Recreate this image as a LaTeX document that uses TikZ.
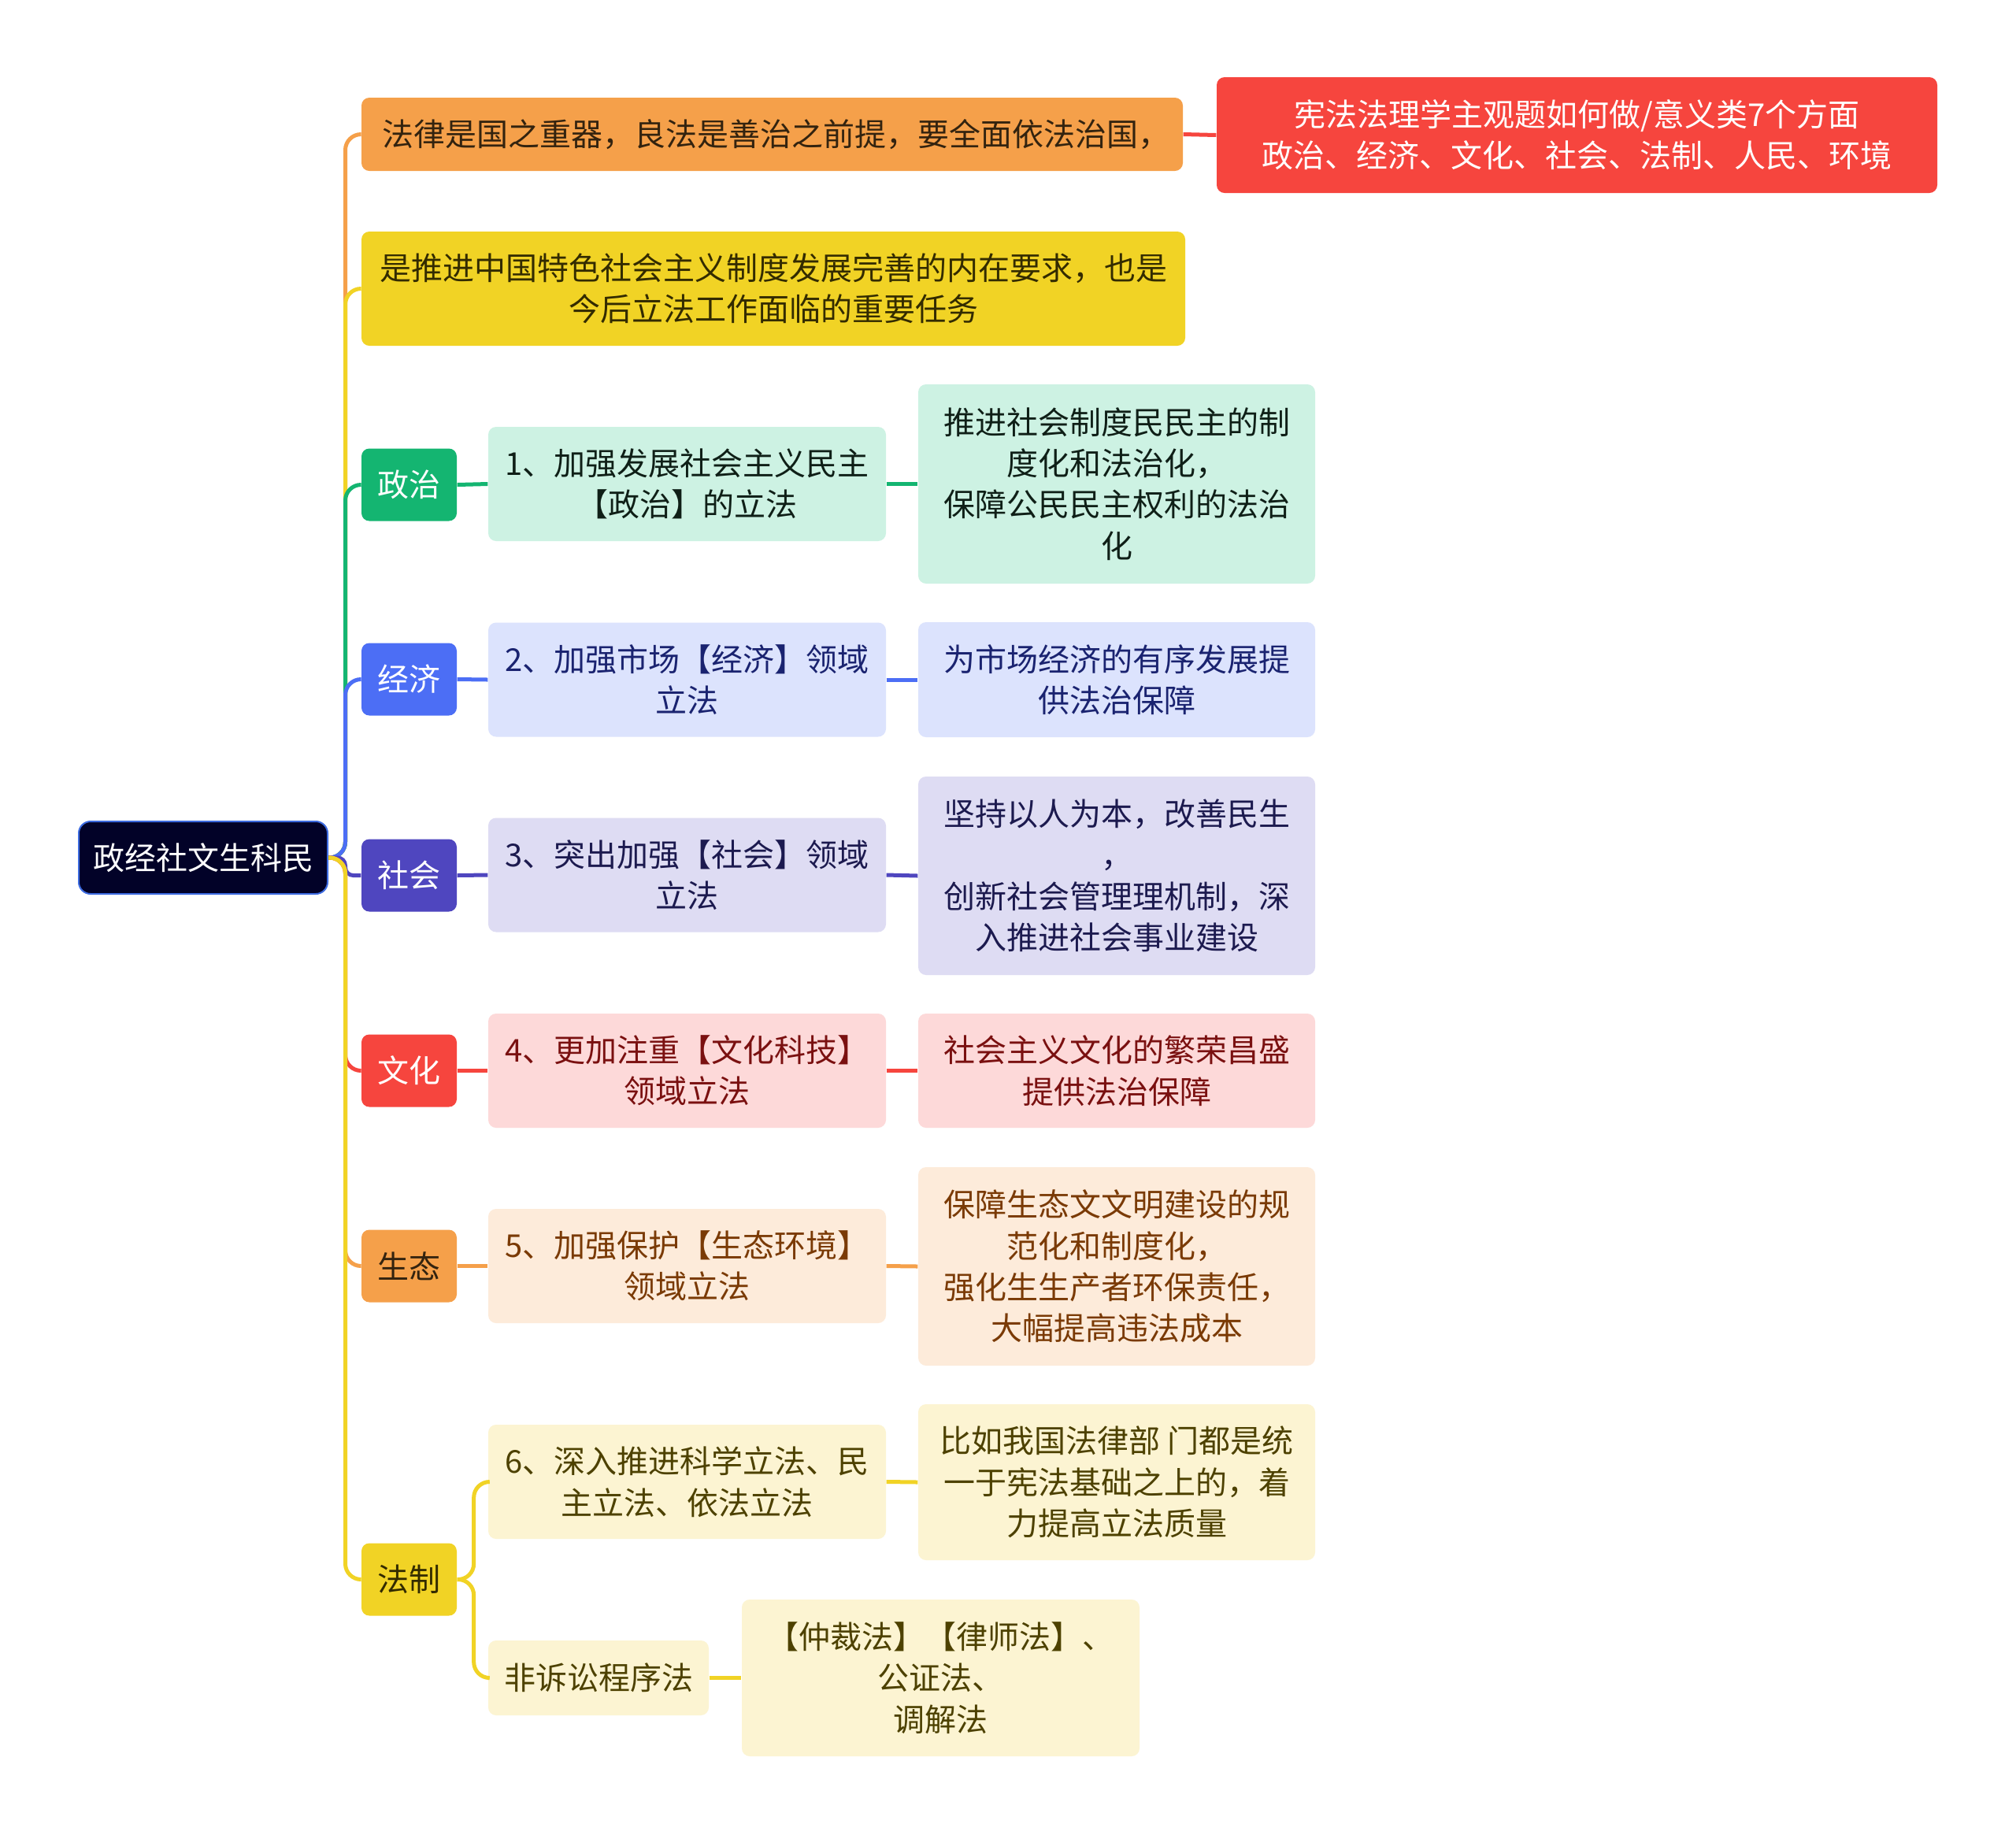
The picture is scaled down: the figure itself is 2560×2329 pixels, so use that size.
\documentclass[tikz,border=0pt]{standalone}
\usepackage{fontspec}
\setmainfont{Noto Sans CJK SC}
\definecolor{cOrange}{HTML}{F5A04A}
\definecolor{cRed}{HTML}{F6453E}
\definecolor{cYellow}{HTML}{F1D325}
\definecolor{cGreen}{HTML}{14B571}
\definecolor{cBlue}{HTML}{4C6EF5}
\definecolor{cIndigo}{HTML}{4F46BF}
\definecolor{cRoot}{HTML}{020228}
\definecolor{cRootB}{HTML}{3D6BE0}
\definecolor{lGreen}{HTML}{CDF2E3}
\definecolor{lBlue}{HTML}{DCE3FD}
\definecolor{lIndigo}{HTML}{DEDCF3}
\definecolor{lRed}{HTML}{FDD9D9}
\definecolor{lOrange}{HTML}{FDEBDA}
\definecolor{lYellow}{HTML}{FCF4D2}
\definecolor{tOrange}{HTML}{33230F}
\definecolor{tYellow}{HTML}{332B00}
\definecolor{tGreen}{HTML}{0F1F17}
\definecolor{tBlue}{HTML}{1A2370}
\definecolor{tIndigo}{HTML}{1C1A4F}
\definecolor{tRed}{HTML}{7A1010}
\definecolor{tBrown}{HTML}{7A3A05}
\definecolor{tOlive}{HTML}{4D4100}
\tikzset{
  box/.style={rectangle, rounded corners=3pt, inner sep=0pt, align=center,
    font=\fontsize{12pt}{15.7pt}\selectfont},
  catbox/.style={box, minimum width=36.3pt, minimum height=27.6pt},
  itembox/.style={box, minimum width=151.5pt, minimum height=43.5pt},
  detbox/.style={box, minimum width=151.2pt},
  conn/.style={line width=1.5pt, rounded corners=6pt},
  straight/.style={line width=1.5pt}}
\begin{document}
\begin{tikzpicture}[x=0.3pt,y=-0.3pt]
\fill[white] (0,0) rectangle (2560,2329);
\useasboundingbox (0,0) rectangle (2560,2329);

% root
\node[box, fill=cRoot, draw=cRootB, line width=0.6pt, text=white, rounded corners=4.5pt, minimum width=94.8pt, minimum height=27.6pt] (root) at (258,1089) {政经社文生科民};

% top nodes
\node[box, fill=cOrange, text=tOrange, minimum width=312.9pt, minimum height=27.9pt, align=left, text width=297.3pt, inner xsep=7.8pt] (n1) at (980.5,170.5) {法律是国之重器，良法是善治之前提，要全面依法治国，};
\node[box, fill=cRed, text=white, minimum width=274.5pt, minimum height=44.1pt] (red) at (2002.5,171.5) {宪法法理学主观题如何做/意义类7个方面\\政治、经济、文化、社会、法制、人民、环境};
\node[box, fill=cYellow, text=tYellow, minimum width=313.8pt, minimum height=43.5pt] (n2) at (982,366.5) {是推进中国特色社会主义制度发展完善的内在要求，也是\\今后立法工作面临的重要任务};

% categories
\node[catbox, fill=cGreen, text=white] (zz) at (519.5,615.5) {政治};
\node[catbox, fill=cBlue, text=white] (jj) at (519.5,862.5) {经济};
\node[catbox, fill=cIndigo, text=white] (sh) at (519.5,1111.5) {社会};
\node[catbox, fill=cRed, text=white] (wh) at (519.5,1359.5) {文化};
\node[catbox, fill=cOrange, text=tOrange] (st) at (519.5,1607.5) {生态};
\node[catbox, fill=cYellow, text=tYellow] (fz) at (519.5,2005.5) {法制};

% items
\node[itembox, fill=lGreen, text=tGreen] (i1) at (872.5,614.5) {1、加强发展社会主义民主\\【政治】的立法};
\node[itembox, fill=lBlue, text=tBlue] (i2) at (872.5,863) {2、加强市场【经济】领域\\立法};
\node[itembox, fill=lIndigo, text=tIndigo] (i3) at (872.5,1111) {3、突出加强【社会】领域\\立法};
\node[itembox, fill=lRed, text=tRed] (i4) at (872.5,1359.5) {4、更加注重【文化科技】\\领域立法};
\node[itembox, fill=lOrange, text=tBrown] (i5) at (872.5,1607.5) {5、加强保护【生态环境】\\领域立法};
\node[itembox, fill=lYellow, text=tOlive] (i6) at (872.5,1881.5) {6、深入推进科学立法、民\\主立法、依法立法};
\node[box, fill=lYellow, text=tOlive, minimum width=84pt, minimum height=28.5pt] (fs) at (760,2130.5) {非诉讼程序法};

% details
\node[detbox, fill=lGreen, text=tGreen, minimum height=75.9pt] (d1) at (1418,614.5) {推进社会制度民民主的制\\度化和法治化，\\保障公民民主权利的法治\\化};
\node[detbox, fill=lBlue, text=tBlue, minimum height=43.8pt] (d2) at (1418,863) {为市场经济的有序发展提\\供法治保障};
\node[detbox, fill=lIndigo, text=tIndigo, minimum height=75.6pt] (d3) at (1418,1112) {坚持以人为本，改善民生\\，\\创新社会管理理机制，深\\入推进社会事业建设};
\node[detbox, fill=lRed, text=tRed, minimum height=43.5pt] (d4) at (1418,1359.5) {社会主义文化的繁荣昌盛\\提供法治保障};
\node[detbox, fill=lOrange, text=tBrown, minimum height=75.6pt] (d5) at (1418,1608) {保障生态文文明建设的规\\范化和制度化，\\强化生生产者环保责任，\\大幅提高违法成本};
\node[detbox, fill=lYellow, text=tOlive, minimum height=59.4pt] (d6) at (1418,1882) {比如我国法律部 门都是统\\一于宪法基础之上的，着\\力提高立法质量};
\node[box, fill=lYellow, text=tOlive, minimum width=151.5pt, minimum height=59.7pt] (fd) at (1194.5,2130.5) {【仲裁法】【律师法】、\\公证法、\\调解法};

% root branches
\draw[conn, cOrange] (root.east) -- ++(21.5,0) |- (n1.west);
\draw[conn, cYellow] (root.east) -- ++(21.5,0) |- (n2.west);
\draw[conn, cGreen] (root.east) -- ++(21.5,0) |- (zz.west);
\draw[conn, cBlue] (root.east) -- ++(21.5,0) |- (jj.west);
\draw[conn, cIndigo, rounded corners=3pt] (root.east) -- ++(21.5,0) |- (sh.west);
\draw[conn, cRed] (root.east) -- ++(21.5,0) |- (wh.west);
\draw[conn, cOrange] (root.east) -- ++(21.5,0) |- (st.west);
\draw[conn, cYellow] (root.east) -- ++(21.5,0) |- (fz.west);

% other connectors
\draw[straight, cRed] (n1.east) -- (red.west);
\draw[straight, cGreen] (zz.east) -- (i1.west);
\draw[straight, cGreen] (i1.east) -- (d1.west);
\draw[straight, cBlue] (jj.east) -- (i2.west);
\draw[straight, cBlue] (i2.east) -- (d2.west);
\draw[straight, cIndigo] (sh.east) -- (i3.west);
\draw[straight, cIndigo] (i3.east) -- (d3.west);
\draw[straight, cRed] (wh.east) -- (i4.west);
\draw[straight, cRed] (i4.east) -- (d4.west);
\draw[straight, cOrange] (st.east) -- (i5.west);
\draw[straight, cOrange] (i5.east) -- (d5.west);
\draw[conn, cYellow] (fz.east) -- ++(21,0) |- (i6.west);
\draw[conn, cYellow] (fz.east) -- ++(21,0) |- (fs.west);
\draw[straight, cYellow] (i6.east) -- (d6.west);
\draw[straight, cYellow] (fs.east) -- (fd.west);
\end{tikzpicture}
\end{document}
